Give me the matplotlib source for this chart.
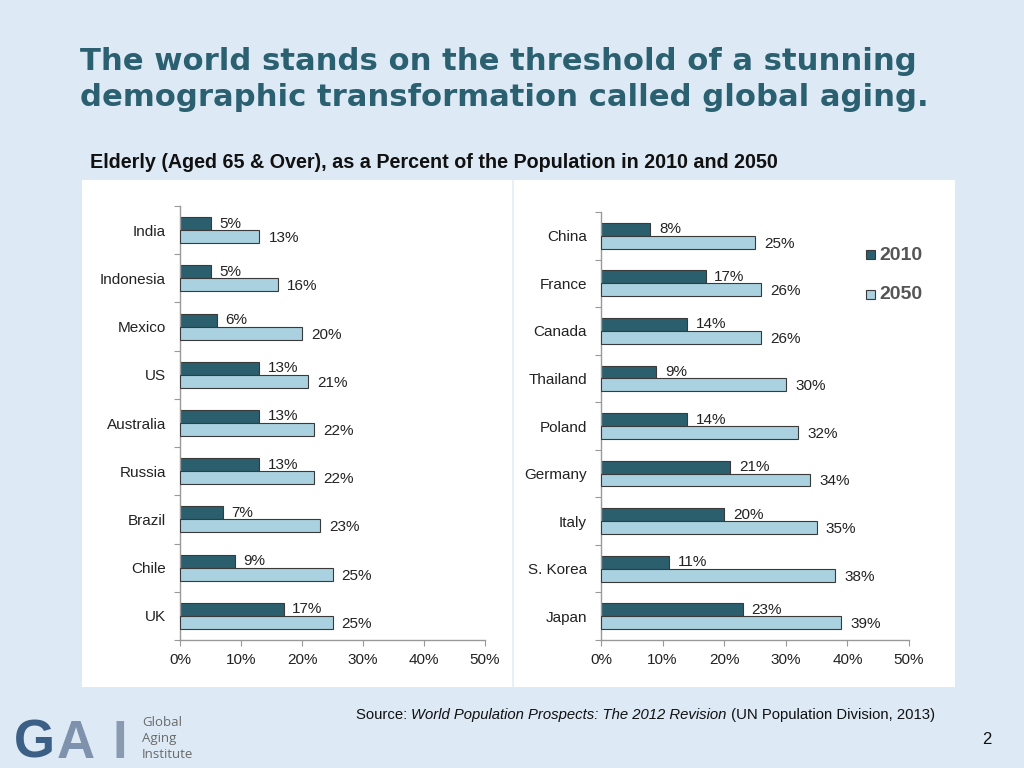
import matplotlib
matplotlib.use("Agg")
import matplotlib.pyplot as plt
from matplotlib.patches import Rectangle

# data (percent of population aged 65+)
left_countries = ["India", "Indonesia", "Mexico", "US", "Australia", "Russia", "Brazil", "Chile", "UK"]
left_2010 = [5, 5, 6, 13, 13, 13, 7, 9, 17]
left_2050 = [13, 16, 20, 21, 22, 22, 23, 25, 25]

right_countries = ["China", "France", "Canada", "Thailand", "Poland", "Germany", "Italy", "S. Korea", "Japan"]
right_2010 = [8, 17, 14, 9, 14, 21, 20, 11, 23]
right_2050 = [25, 26, 26, 30, 32, 34, 35, 38, 39]

x_ticks = [0, 10, 20, 30, 40, 50]
years = ["2010", "2050"]

DARK = "#2b5f6e"
LIGHT = "#a9d1df"
EDGE = "#3a3a3a"
BG = "#dde9f5"
TITLE = "#2b6070"
FONT = "Liberation Sans"
FS = 11

W, H = 1024, 768
fig = plt.figure(figsize=(W / 100, H / 100), dpi=100, facecolor=BG)


def fx(px):
    return px / W


def fy(py):
    return 1 - py / H


# white chart panel
fig.patches.append(Rectangle((fx(82), fy(687)), fx(955) - fx(82), fy(180) - fy(687),
                             transform=fig.transFigure, facecolor="white", edgecolor="none", zorder=-2))
fig.add_artist(plt.Line2D([fx(513), fx(513)], [fy(180), fy(687)], transform=fig.transFigure,
                          color="#e4ecf4", lw=1.2, zorder=-1))


def panel(rect, cats, v10, v50):
    ax = fig.add_axes(rect)
    ax.set_facecolor("none")
    n = len(cats)
    ys = list(range(n))
    h = 0.27
    ax.barh([y - h / 2 for y in ys], v10, height=h, color=DARK, edgecolor=EDGE, lw=0.8, zorder=2)
    ax.barh([y + h / 2 for y in ys], v50, height=h, color=LIGHT, edgecolor=EDGE, lw=0.8, zorder=4)
    for y, a, b in zip(ys, v10, v50):
        ax.text(a + 1.4, y - h / 2, f"{a}%", va="center", ha="left", fontsize=FS,
                family=FONT, color="#222222", zorder=3)
        ax.text(b + 1.5, y + h / 2 + 0.03, f"{b}%", va="center", ha="left", fontsize=FS,
                family=FONT, color="#222222", zorder=5)
    ax.set_ylim(n - 0.5, -0.5)
    ax.set_xlim(0, 50)
    ax.set_yticks([i - 0.5 for i in range(n + 1)])
    ax.set_yticklabels([])
    ax.set_yticks(ys, minor=True)
    ax.set_yticklabels(cats, minor=True, fontsize=FS, family=FONT, color="#222222")
    ax.tick_params(axis="y", which="minor", length=0, pad=10)
    ax.tick_params(axis="y", which="major", length=4, color="#999999")
    ax.set_xticks(x_ticks)
    ax.set_xticklabels([f"{t}%" for t in x_ticks], fontsize=FS, family=FONT, color="#222222")
    ax.tick_params(axis="x", length=4, color="#999999", pad=5)
    for s in ("top", "right"):
        ax.spines[s].set_visible(False)
    for s in ("left", "bottom"):
        ax.spines[s].set_color("#999999")
        ax.spines[s].set_linewidth(1)
    return ax


panel([fx(180), fy(640), fx(485) - fx(180), fy(206) - fy(640)], left_countries, left_2010, left_2050)
panel([fx(601), fy(640), fx(909) - fx(601), fy(212) - fy(640)], right_countries, right_2010, right_2050)

# legend
for label, col, cy in zip(years, [DARK, LIGHT], [254, 294]):
    fig.patches.append(Rectangle((fx(866), fy(cy + 5)), fx(9), fy(0) - fy(9), transform=fig.transFigure,
                                 facecolor=col, edgecolor=EDGE, lw=0.8))
    fig.text(fx(879), fy(cy + 1), label, fontsize=14, fontweight="bold", family=FONT,
             color="#555555", va="center", ha="left")

# titles
fig.text(fx(80), fy(62), "The world stands on the threshold of a stunning", fontsize=22.1,
         fontweight="bold", family="DejaVu Sans", color=TITLE, va="center", ha="left")
fig.text(fx(80), fy(98), "demographic transformation called global aging.", fontsize=22.1,
         fontweight="bold", family="DejaVu Sans", color=TITLE, va="center", ha="left")
fig.text(fx(90), fy(163), "Elderly (Aged 65 & Over), as a Percent of the Population in 2010 and 2050",
         fontsize=14.2, fontweight="bold", family=FONT, color="#111111", va="center", ha="left")

# source line (mixed italic)
t1 = fig.text(fx(356), fy(719), "Source: ", fontsize=10.7, family=FONT, color="#111111",
              va="baseline", ha="left")
t2 = fig.text(0, 0, "World Population Prospects: The 2012 Revision", fontsize=10.7, family=FONT,
              style="italic", color="#111111", va="baseline", ha="left")
t3 = fig.text(0, 0, " (UN Population Division, 2013)", fontsize=10.7, family=FONT, color="#111111",
              va="baseline", ha="left")
fig.canvas.draw()
r = fig.canvas.get_renderer()
e1 = t1.get_window_extent(r)
t2.set_position((e1.x1 / W, fy(719)))
fig.canvas.draw()
e2 = t2.get_window_extent(r)
t3.set_position((e2.x1 / W, fy(719)))

fig.text(fx(987), fy(739), "2", fontsize=12, family=FONT, color="#111111", va="center", ha="center")

# logo
for ch, x, col in zip("GAI", [14, 57, 113], ["#3b5f85", "#7f92ad", "#8a9ab1"]):
    fig.text(fx(x), fy(758), ch, fontsize=38, fontweight="bold", family=FONT, color=col,
             va="baseline", ha="left")
for i, w in enumerate(["Global", "Aging", "Institute"]):
    fig.text(fx(142), fy(723 + i * 15.5), w, fontsize=9.5, family="Open Sans", color="#6a6a6a",
             va="center", ha="left")

fig.savefig("out.png", dpi=100, facecolor=BG)
